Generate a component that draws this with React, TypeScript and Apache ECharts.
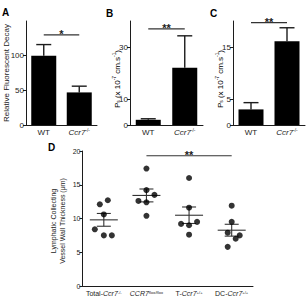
import React, { useEffect, useRef } from 'react';
import * as echarts from 'echarts';

const FONT = '"Liberation Sans", Arial, Helvetica, sans-serif';
const INK = '#1c1c1c';

// Panels A–C: WT vs Ccr7-/- (mean with SEM)
const pairLabels = ['WT', 'Ccr7'];
const pairAllele = ['', '-/-'];
const decayMean = [100, 47];
const decaySem = [16, 9];
const psLymphMean = [2, 22];
const psLymphSem = [0.4, 12.3];
const psBloodMean = [3, 16.1];
const psBloodSem = [1.3, 2.6];

const ticksA = [0, 50, 100];
const ticksB = [0, 10, 30];
const ticksC = [0, 5, 15];
const ticksD = [0, 5, 10, 15, 20];

// Panel D: collecting vessel wall thickness, one value per animal (µm)
const groupPrefix = ['Total-', '', 'T-', 'DC-'];
const groupGene = ['Ccr7', 'CCR7', 'Ccr7', 'Ccr7'];
const groupAllele = ['-/-', 'flox/flox', '+/+', '+/+'];
const wallTotalKO = [12.1, 12.7, 10.6, 8.4, 7.5, 7.5];
const wallFloxed = [17.4, 14.2, 13.5, 12.6, 12.4, 10.4];
const wallTCell = [16.0, 11.6, 9.2, 9.5, 9.0, 7.6];
const wallDC = [11.9, 9.5, 7.9, 7.5, 7.0, 5.8];

// significance brackets: [from category, to category, level], star text
const sigA = [0, 1, 130];
const sigB = [0, 1, 37];
const sigC = [0, 1, 19.7];
const sigD = [1, 3, 19.3];
const starsA = '*';
const starsB = '**';
const starsC = '**';
const starsD = '**';

// horizontal spread (px) so overlapping dots sit side by side
const dotSpread = [
  [-4, 4, 0, -9, 0, 8],
  [0, 0, 8, -8, 0, 0],
  [0, 0, -8, 8, 0, 0],
  [0, 0, -4, 8, 4, -4],
];

const mean = (a: number[]) => a.reduce((s, v) => s + v, 0) / a.length;
const sem = (a: number[]) => {
  const m = mean(a);
  const sd = Math.sqrt(a.reduce((s, v) => s + (v - m) * (v - m), 0) / (a.length - 1));
  return sd / Math.sqrt(a.length);
};

const rich = (size: number) => ({
  t: { fontFamily: FONT, fontSize: size, color: INK },
  i: { fontFamily: FONT, fontSize: size, fontStyle: 'italic', color: INK },
  sup: { fontFamily: FONT, fontSize: size * 0.6, color: INK, padding: [0, 0, size * 0.55, 0] },
  sub: { fontFamily: FONT, fontSize: size * 0.6, color: INK, padding: [size * 0.45, 0, 0, 0] },
});

const axisLine = { show: true, lineStyle: { color: INK, width: 1 } };

const pairXAxis = (grid: number) => ({
  type: 'category',
  gridIndex: grid,
  data: pairLabels,
  axisLine,
  axisTick: { show: false },
  axisLabel: {
    interval: 0,
    hideOverlap: false,
    margin: 3,
    fontFamily: FONT,
    fontSize: 8,
    color: INK,
    formatter: (v: string, idx: number) =>
      pairAllele[idx] ? `{i|${v}}{sup|${pairAllele[idx]}}` : `{t|${v}}`,
    rich: rich(8),
  },
});

const valueYAxis = (grid: number, max: number, ticks: number[], size: number) => ({
  type: 'value',
  gridIndex: grid,
  min: 0,
  max,
  axisLine,
  axisTick: { show: true, length: 3, customValues: ticks, lineStyle: { color: INK, width: 1 } },
  axisLabel: { customValues: ticks, margin: 2, fontFamily: FONT, fontSize: size, color: INK },
  splitLine: { show: false },
});

const errorUp = (params: any, api: any) => {
  const x = api.value(0);
  const m = api.value(1);
  const e = api.value(2);
  const base = api.coord([x, m]);
  const top = api.coord([x, m + e]);
  const st = { stroke: INK, lineWidth: 1.4 };
  return {
    type: 'group',
    children: [
      { type: 'line', shape: { x1: base[0], y1: base[1], x2: top[0], y2: top[1] }, style: st },
      { type: 'line', shape: { x1: top[0] - 7.5, y1: top[1], x2: top[0] + 7.5, y2: top[1] }, style: st },
    ],
  };
};

const semWhisker = (params: any, api: any) => {
  const x = api.value(0);
  const m = api.value(1);
  const e = api.value(2);
  const c = api.coord([x, m]);
  const hi = api.coord([x, m + e]);
  const lo = api.coord([x, m - e]);
  const st = { stroke: '#333', lineWidth: 1.1 };
  return {
    type: 'group',
    children: [
      { type: 'line', shape: { x1: c[0] - 14, y1: c[1], x2: c[0] + 14, y2: c[1] }, style: st },
      { type: 'line', shape: { x1: c[0], y1: hi[1], x2: c[0], y2: lo[1] }, style: st },
      { type: 'line', shape: { x1: c[0] - 7, y1: hi[1], x2: c[0] + 7, y2: hi[1] }, style: st },
      { type: 'line', shape: { x1: c[0] - 7, y1: lo[1], x2: c[0] + 7, y2: lo[1] }, style: st },
    ],
  };
};

const bracket = (stars: string) => (params: any, api: any) => {
  const p0 = api.coord([api.value(0), api.value(2)]);
  const p1 = api.coord([api.value(1), api.value(2)]);
  return {
    type: 'group',
    children: [
      { type: 'line', shape: { x1: p0[0], y1: p0[1], x2: p1[0], y2: p1[1] }, style: { stroke: '#333', lineWidth: 1.2 } },
      {
        type: 'text',
        x: (p0[0] + p1[0]) / 2,
        y: p0[1] - 1,
        style: { text: stars, fill: INK, font: `bold 11px ${FONT}`, align: 'center', verticalAlign: 'middle' },
      },
    ],
  };
};

const barPanel = (grid: number, means: number[], sems: number[], sig: number[], stars: string) => [
  {
    type: 'bar',
    xAxisIndex: grid,
    yAxisIndex: grid,
    data: means,
    barWidth: 25,
    itemStyle: { color: '#000' },
  },
  {
    type: 'custom',
    xAxisIndex: grid,
    yAxisIndex: grid,
    clip: false,
    renderItem: errorUp,
    data: means.map((m, i) => [i, m, sems[i]]),
  },
  {
    type: 'custom',
    xAxisIndex: grid,
    yAxisIndex: grid,
    clip: false,
    renderItem: bracket(stars),
    data: [sig],
  },
];

const wallGroups = [wallTotalKO, wallFloxed, wallTCell, wallDC];

const panelLetter = (text: string, x: number, y: number) => ({
  type: 'text',
  x,
  y,
  style: { text, fill: '#000', font: `bold 10px ${FONT}`, verticalAlign: 'middle' },
});

const psTitle = (x: number, y: number) => ({
  type: 'text',
  x,
  y,
  rotation: Math.PI / 2,
  style: {
    text: '{t|P}{sub|s}{t| (x 10}{sup|-7}{t| cm.s}{sup|-1}{t|)}',
    rich: rich(8),
    align: 'center',
    verticalAlign: 'middle',
  },
});

// D axis labels drawn as graphic text, aligned on the category centres
const groupLabelText = (idx: number) =>
  (groupPrefix[idx] ? `{t|${groupPrefix[idx]}}` : '') + `{i|${groupGene[idx]}}{sup|${groupAllele[idx]}}`;

export default function App() {
  const ref = useRef<HTMLDivElement>(null);

  useEffect(() => {
    if (!ref.current) return;
    const chart = echarts.init(ref.current, null, { renderer: 'svg' });
    const option: any = {
      animation: false,
      backgroundColor: '#fff',
      textStyle: { fontFamily: FONT, color: INK },
      grid: [
        { left: 26, top: 21, width: 71, height: 104, outerBoundsMode: 'none' },
        { left: 130, top: 21, width: 73, height: 104, outerBoundsMode: 'none' },
        { left: 233, top: 21, width: 72, height: 104, outerBoundsMode: 'none' },
        { left: 82.5, top: 151, width: 170.5, height: 135, outerBoundsMode: 'none' },
      ],
      xAxis: [
        pairXAxis(0),
        pairXAxis(1),
        pairXAxis(2),
        {
          type: 'category',
          gridIndex: 3,
          data: groupGene.map((g, i) => `${groupPrefix[i]}${g}${groupAllele[i]}`),
          axisLine,
          axisTick: { show: false },
          axisLabel: {
            interval: 0,
            hideOverlap: false,
            margin: 4,
            fontFamily: FONT,
            fontSize: 7,
            color: INK,
            formatter: (_v: string, idx: number) => groupLabelText(idx),
            rich: rich(7),
          },
        },
      ],
      yAxis: [
        valueYAxis(0, 150, ticksA, 8),
        valueYAxis(1, 40, ticksB, 8),
        valueYAxis(2, 20, ticksC, 8),
        valueYAxis(3, 20, ticksD, 7),
      ],
      series: [
        ...barPanel(0, decayMean, decaySem, sigA, starsA),
        ...barPanel(1, psLymphMean, psLymphSem, sigB, starsB),
        ...barPanel(2, psBloodMean, psBloodSem, sigC, starsC),
        {
          type: 'scatter',
          xAxisIndex: 3,
          yAxisIndex: 3,
          symbol: 'circle',
          symbolSize: 6,
          itemStyle: { color: '#000' },
          data: wallGroups.flatMap((vals, gi) =>
            vals.map((v, k) => ({ value: [gi, v], symbolOffset: [dotSpread[gi][k], 0] }))
          ),
        },
        {
          type: 'custom',
          xAxisIndex: 3,
          yAxisIndex: 3,
          clip: false,
          renderItem: semWhisker,
          data: wallGroups.map((vals, gi) => [gi, mean(vals), sem(vals)]),
        },
        {
          type: 'custom',
          xAxisIndex: 3,
          yAxisIndex: 3,
          clip: false,
          renderItem: bracket(starsD),
          data: [sigD],
        },
      ],
      graphic: [
        panelLetter('A', 2, 12),
        panelLetter('B', 106, 13),
        panelLetter('C', 210, 13),
        panelLetter('D', 48, 147),
        {
          type: 'text',
          x: 6,
          y: 73,
          rotation: Math.PI / 2,
          style: {
            text: 'Relative Fluorescent Decay',
            fill: INK,
            font: `8px ${FONT}`,
            align: 'center',
            verticalAlign: 'middle',
          },
        },
        psTitle(117, 79),
        psTitle(220, 79),
        {
          type: 'text',
          x: 58,
          y: 221,
          rotation: Math.PI / 2,
          style: {
            text: 'Lymphatic Collecting\nVessel Wall Thickness (\u03bcm)',
            fill: INK,
            font: `7px ${FONT}`,
            lineHeight: 9.5,
            align: 'center',
            verticalAlign: 'middle',
          },
        },
      ],
    };
    chart.setOption(option);
    return () => chart.dispose();
  }, []);

  return (
    <div
      ref={ref}
      style={{ position: 'absolute', left: 0, top: 0, width: 308, height: 301, background: '#fff' }}
    />
  );
}
